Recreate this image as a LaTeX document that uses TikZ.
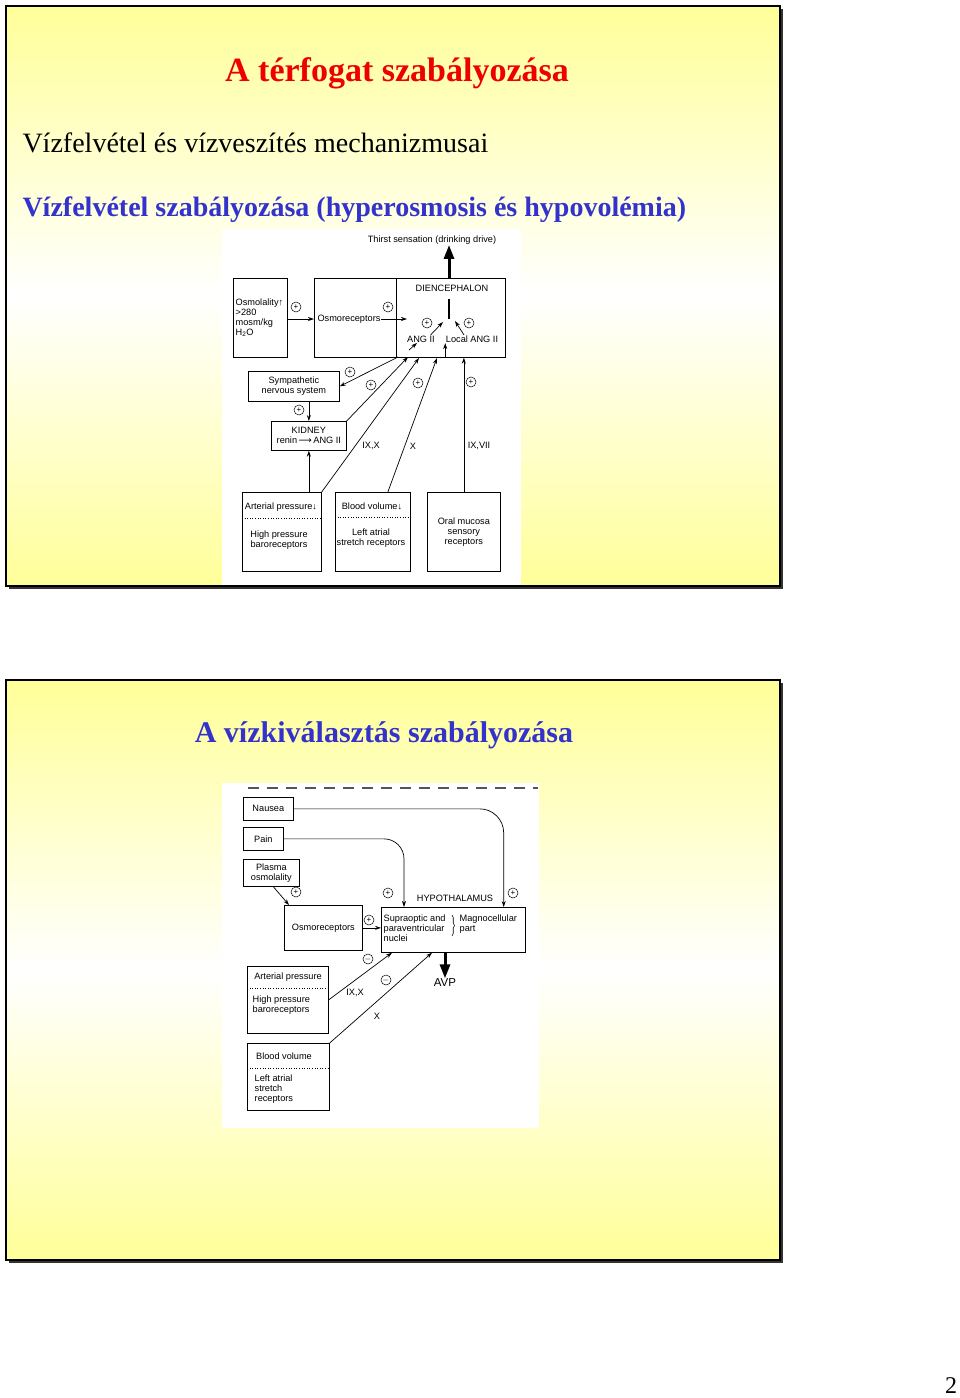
\documentclass[tikz,border=0pt]{standalone}
\usepackage{fontspec}
\setmainfont{Liberation Serif}
\newfontfamily\diafont{Liberation Sans}
\newfontfamily\arrowfont{DejaVu Sans}
\usetikzlibrary{arrows.meta, positioning, decorations.pathreplacing}
\definecolor{SlideYellow}{HTML}{FFFF99}
\definecolor{TitleRed}{HTML}{EE0000}
\definecolor{TitleBlue}{HTML}{3333CC}
\definecolor{DashGray}{HTML}{555555}

\begin{document}
\begin{tikzpicture}[x=1pt, y=-1pt,
        slide/.style={draw=black, line width=1.3pt, top color=SlideYellow, bottom color=SlideYellow, middle color=white},
        shadowbox/.style={fill=black!80},
        box/.style={draw, line width=0.7pt, anchor=north west, inner sep=0pt, align=center, font=\diafont\fontsize{9.2}{10}\selectfont},
        txt/.style={inner sep=0.5pt, align=center, font=\diafont\fontsize{9.2}{10}\selectfont},
        sign/.style={circle, draw, line width=0.5pt, inner sep=0pt, minimum size=10pt, font=\diafont\fontsize{8}{8}\selectfont},
        arr/.style={-{Stealth[length=6pt, width=4pt]}, line width=0.7pt},
        thickarr/.style={-{Triangle[length=14pt, width=10pt]}, line width=3pt},
        dotsep/.style={dotted, line width=0.6pt}
      ]
        \useasboundingbox (0,0) rectangle (960,1398);

        % slide 1
        \fill[shadowbox] (9,9) rectangle (783,589);
        \draw[slide] (6,6) rectangle (780,586);
        \fill[white] (222,229) rectangle (521,585);
        \node[font=\bfseries\fontsize{34}{38}\selectfont, text=TitleRed] (title1) at (397,73) {A térfogat szabályozása};
        \node[anchor=west, font=\fontsize{28}{32}\selectfont] (sub1) at (19,143) {Vízfelvétel és vízveszítés mechanizmusai};
        \node[anchor=west, font=\bfseries\fontsize{28}{32}\selectfont, text=TitleBlue] (sub2) at (19,210) {Vízfelvétel szabályozása (hyperosmosis és hypovolémia)};

        \node[txt] (thirst) at (432,240) {Thirst sensation (drinking drive)};
        \node[box, minimum width=54, minimum height=79] (osmol) at (233,278) {};
        \node[txt, align=left, anchor=north west] (osmoltxt) at (235,298) {Osmolality↑\\>280\\mosm/kg\\H\textsubscript{2}O};
        \node[box, minimum width=82, minimum height=79] (osmorec) at (314,278) {};
        \node[box, minimum width=109, minimum height=79] (dienc) at (396,278) {};
        \node[txt] (osmortxt) at (349,319) {Osmoreceptors};
        \node[txt] (dienctxt) at (452,288) {DIENCEPHALON};
        \node[txt] (ang) at (421,339) {ANG II};
        \node[txt] (lang) at (472,339) {Local ANG II};
        \coordinate (junc) at (449,319);
        \coordinate (junctop) at (449,299);
        \coordinate (osmin) at (407,319);
        \coordinate (angtip) at (443,322);
        \coordinate (langtip) at (455,321);
        \coordinate (angfoot) at (409,350);

        \draw[arr] (osmol.east |- osmortxt) -- (osmorec.west |- osmortxt);
        \node[sign] (s1) at (296,307) {+};
        \draw[arr] (osmortxt.east) -- (osmin);
        \node[sign] (s2) at (388,307) {+};
        \draw[line width=2.2pt] (junc) -- (junctop);
        \draw[thickarr] (dienc.north -| junc) -- (thirst.south -| junc);
        \draw[arr] ([xshift=-5pt]ang.north east) -- (angtip);
        \draw[arr] ([xshift=-8pt]lang.north) -- (langtip);
        \node[sign] (s3) at (427,323) {+};
        \node[sign] (s4) at (469,323) {+};
        \draw[arr] (angfoot) -- ([xshift=-4pt]ang.south);
        \draw[arr] (dienc.south -| lang.south west) -- (lang.south west);

        \node[box, minimum width=91, minimum height=30] (symp) at (248,371) {Sympathetic\\nervous system};
        \node[box, minimum width=75, minimum height=29] (kidney) at (271,421) {KIDNEY\\renin\,{\arrowfont ⟶}\,ANG II};
        \node[box, minimum width=79, minimum height=79] (arter) at (242,492) {};
        \node[box, minimum width=75, minimum height=79] (blood) at (335,492) {};
        \node[box, minimum width=73, minimum height=79] (oral) at (427,492) {Oral mucosa\\sensory\\receptors};
        \node[txt] (artp) at (281,507) {Arterial pressure↓};
        \node[txt] (artb) at (279,540) {High pressure\\baroreceptors};
        \node[txt] (bvol) at (372,506) {Blood volume↓};
        \node[txt] (lasr) at (371,538) {Left atrial\\stretch receptors};
        \draw[dotsep] ([yshift=-26pt]arter.north west) -- ([yshift=-26pt]arter.north east);
        \draw[dotsep] ([yshift=-25pt]blood.north west) -- ([yshift=-25pt]blood.north east);

        \coordinate (ina) at (398,357);
        \coordinate (inb) at (408,357);
        \coordinate (inc) at (419,358);
        \coordinate (ind) at (437,358);
        \draw[arr] (ina) -- (symp.east);
        \draw[arr] (kidney.north east) -- (inb);
        \draw[arr] (arter.north east) -- (inc);
        \draw[arr] ([xshift=15pt]blood.north) -- (ind);
        \draw[arr] (oral.north) -- (oral.north |- dienc.south);
        \draw[arr] (symp.south -| kidney) -- (kidney.north);
        \draw[arr] (arter.north -| kidney) -- (kidney.south);
        \node[sign] (s5) at (299,410) {+};
        \node[sign] (s6) at (350,372) {+};
        \node[sign] (s7) at (371,385) {+};
        \node[sign] (s8) at (418,383) {+};
        \node[sign] (s9) at (471,382) {+};
        \node[txt] (nixx) at (371,446) {IX,X};
        \node[txt] (nx) at (413,446) {X};
        \node[txt] (nixvii) at (479,446) {IX,VII};

        % slide 2
        \fill[shadowbox] (9,683) rectangle (783,1263);
        \draw[slide] (6,680) rectangle (780,1260);
        \fill[white] (222,783) rectangle (539,1128);
        \node[font=\bfseries\fontsize{30}{34}\selectfont, text=TitleBlue] (title2) at (384,735) {A vízkiválasztás szabályozása};
        \draw[DashGray, line width=1.4pt, dash pattern=on 11pt off 8pt] (248,788) -- (538,788);

        \node[box, minimum width=50, minimum height=23] (nausea) at (243,797) {Nausea};
        \node[box, minimum width=40, minimum height=23] (pain) at (243,827) {Pain};
        \node[box, minimum width=56, minimum height=27] (plasma) at (243,859) {Plasma\\osmolality};
        \node[box, minimum width=78, minimum height=45] (osm2) at (284,905) {Osmoreceptors};
        \node[box, minimum width=144, minimum height=45] (hypo) at (381,907) {};
        \node[txt] (hypotxt) at (455,898) {HYPOTHALAMUS};
        \node[txt, align=left, anchor=north west] (sonuc) at (383,914) {Supraoptic and\\paraventricular\\nuclei};
        \node[txt, align=left, anchor=north west] (magno) at (459,914) {Magnocellular\\part};
        \draw[decorate, decoration={brace, amplitude=2.5pt}, line width=0.6pt] (452,915) -- (452,936);
        \node[txt, font=\diafont\fontsize{11.5}{12}\selectfont] (avp) at (445,983) {AVP};

        \coordinate (hnaus) at ([xshift=-22pt]hypo.north east);
        \coordinate (hpain) at ([xshift=23pt]hypo.north west);
        \draw[arr, rounded corners=24pt] (nausea.east) -- (nausea.east -| hnaus) -- (hnaus);
        \draw[arr, rounded corners=20pt] (pain.east) -- (pain.east -| hpain) -- (hpain);
        \draw[arr] ([xshift=2pt]plasma.south) -- ([xshift=5pt]osm2.north west);
        \draw[arr] (osm2.east) -- (osm2.east -| hypo.west);
        \draw[thickarr] (hypo.south -| avp.north) -- (avp.north);
        \node[sign] (t1) at (296,892) {+};
        \node[sign] (t2) at (388,893) {+};
        \node[sign] (t3) at (513,893) {+};
        \node[sign] (t4) at (369,920) {+};

        \node[box, minimum width=81, minimum height=67] (arter2) at (247,966) {};
        \node[txt] (arp2) at (288,977) {Arterial pressure};
        \node[txt, align=left, anchor=north west] (arb2) at (252,995) {High pressure\\baroreceptors};
        \draw[dotsep] ([yshift=-22pt]arter2.north west) -- ([yshift=-22pt]arter2.north east);
        \node[box, minimum width=82, minimum height=67] (blood2) at (247,1043) {};
        \node[txt] (bv2) at (284,1056) {Blood volume};
        \node[txt, align=left, anchor=north west] (lasr2) at (254,1074) {Left atrial\\stretch\\receptors};
        \draw[dotsep] ([yshift=-25pt]blood2.north west) -- ([yshift=-25pt]blood2.north east);

        \draw[arr] (arter2.east) -- ([xshift=11pt]hypo.south west);
        \draw[arr] (blood2.north east) -- ([xshift=51pt]hypo.south west);
        \node[sign] (t5) at (368,959) {$-$};
        \node[sign] (t6) at (386,980) {$-$};
        \node[txt] (mixx) at (355,993) {IX,X};
        \node[txt] (mx) at (377,1016) {X};

        \node[font=\fontsize{24}{24}\selectfont] (pagenum) at (951,1386) {2};
      \end{tikzpicture}
\end{document}
